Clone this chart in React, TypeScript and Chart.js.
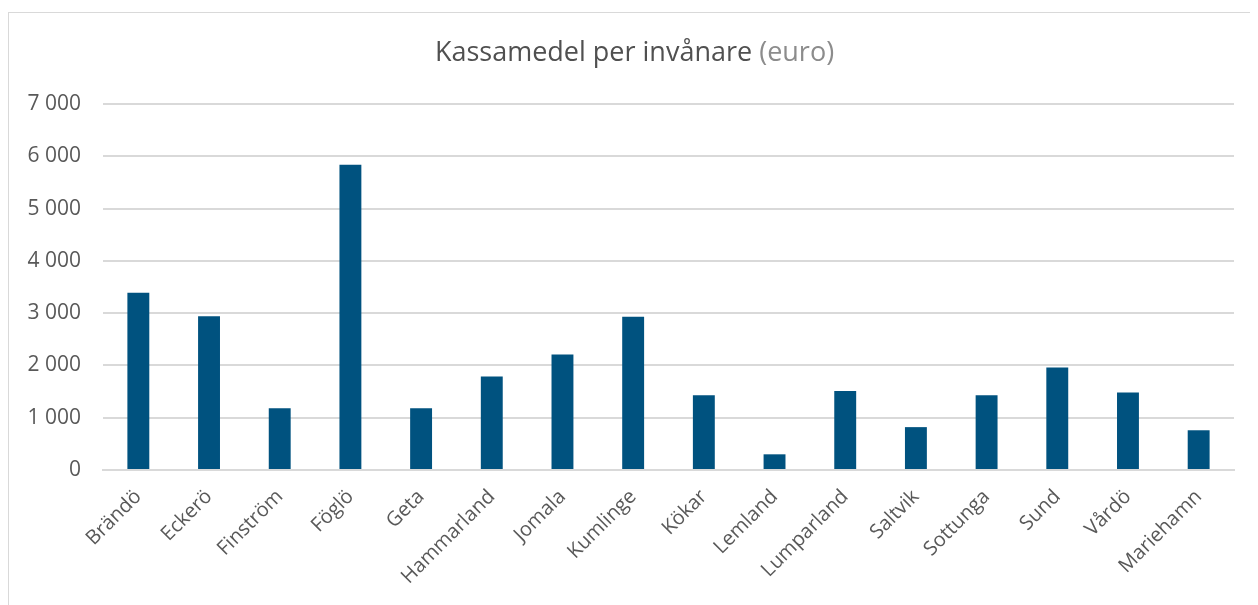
import React, { useEffect, useRef } from "react";
import { Chart, registerables } from "chart.js";
Chart.register(...registerables);

const categories = ["Brändö","Eckerö","Finström","Föglö","Geta","Hammarland","Jomala","Kumlinge","Kökar","Lemland","Lumparland","Saltvik","Sottunga","Sund","Vårdö","Mariehamn"];
const values = [3390, 2940, 1180, 5840, 1180, 1790, 2210, 2930, 1430, 300, 1510, 820, 1430, 1960, 1480, 760];
const yTicks = [0, 1000, 2000, 3000, 4000, 5000, 6000, 7000];
const titleMain = "Kassamedel per invånare";
const titleUnit = " (euro)";

const FONT = "'Open Sans', sans-serif";
const TITLE_SIZE = 27;

const titlePlugin = {
  id: "twoToneTitle",
  afterDraw(chart: any) {
    const ctx = chart.ctx;
    ctx.save();
    ctx.font = `${TITLE_SIZE}px ${FONT}`;
    const w1 = ctx.measureText(titleMain).width;
    const w2 = ctx.measureText(titleUnit).width;
    const cx = chart.width / 2 + 2;
    const x = cx - (w1 + w2) / 2;
    const y = 40;
    ctx.textBaseline = "middle";
    ctx.textAlign = "left";
    ctx.fillStyle = "#505050";
    ctx.fillText(titleMain, x, y);
    ctx.fillStyle = "#8c8c8c";
    ctx.fillText(titleUnit, x + w1, y);
    ctx.restore();
  },
};

export default function App() {
  const ref = useRef<HTMLCanvasElement>(null);
  useEffect(() => {
    if (!ref.current) return;
    const chart = new Chart(ref.current, {
      type: "bar",
      data: {
        labels: categories,
        datasets: [{
          data: values,
          backgroundColor: "#00527f",
          borderWidth: 0,
          barPercentage: 0.62,
          categoryPercentage: 0.5,
        }],
      },
      plugins: [titlePlugin],
      options: {
        animation: false,
        responsive: false,
        layout: { padding: { top: 91, right: 22, left: 0, bottom: 0 } },
        plugins: { legend: { display: false }, title: { display: false }, tooltip: { enabled: false } },
        scales: {
          x: {
            grid: { display: false, drawTicks: false },
            border: { display: true, color: "#d9d9d9", width: 2 },
            ticks: { color: "#595959", font: { family: FONT, size: 20 }, minRotation: 45, maxRotation: 45, padding: 15, autoSkip: false },
            afterFit: (s: any) => { s.height = 143; },
          },
          y: {
            min: 0, max: 7000,
            afterBuildTicks: (s: any) => { s.ticks = yTicks.map((v) => ({ value: v })); },
            grid: { color: "#d9d9d9", lineWidth: 2, drawTicks: false },
            border: { display: false },
            ticks: {
              color: "#595959",
              font: { family: FONT, size: 21 },
              padding: 22,
              callback: (v: any) => Number(v).toLocaleString("en-US").replace(/,/g, " "),
            },
            afterFit: (s: any) => { s.width = 94; },
          },
        },
      },
    });
    return () => chart.destroy();
  }, []);
  return (
    <div style={{ marginTop: 4, width: 1249, height: 610, border: "1px solid #d9d9d9", boxSizing: "border-box", overflow: "hidden", background: "#fff" }}>
      <canvas ref={ref} width={1247} height={600} style={{ display: "block" }} />
    </div>
  );
}
